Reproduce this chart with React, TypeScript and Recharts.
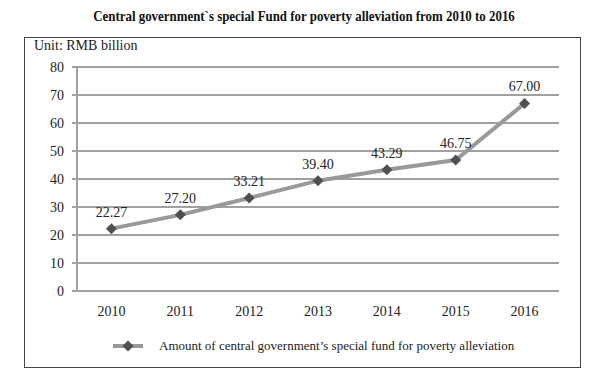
import React from 'react';
import { LineChart, Line, XAxis, YAxis, CartesianGrid, LabelList } from 'recharts';

const years = ['2010', '2011', '2012', '2013', '2014', '2015', '2016'];
const funds = [22.27, 27.2, 33.21, 39.4, 43.29, 46.75, 67.0];
const yTicks = [0, 10, 20, 30, 40, 50, 60, 70, 80];
const edgeTicks = [0, 1, 2, 3, 4, 5, 6, 7];

const data = years.map((year, i) => ({ year, fund: funds[i] }));

const serif = '"Liberation Serif", "Times New Roman", serif';

const Diamond = (props: any) => {
  const { cx, cy, index } = props;
  if (cx == null || cy == null) return null;
  const r = 5.5;
  return (
    <path
      key={`d-${index}`}
      d={`M${cx},${cy - r} L${cx + r},${cy} L${cx},${cy + r} L${cx - r},${cy} Z`}
      fill="#505050"
    />
  );
};

export default function App() {
  return (
    <div style={{ position: 'absolute', left: 0, top: 0, width: 600, height: 382, background: '#fff', fontFamily: serif }}>
      <div
        style={{
          position: 'absolute',
          left: 0,
          top: 8,
          width: 608,
          textAlign: 'center',
          fontSize: 15,
          fontWeight: 'bold',
          color: '#111',
          transform: 'scaleX(0.86)',
          transformOrigin: '304px 0',
          whiteSpace: 'nowrap',
        }}
      >
        Central government`s special Fund for poverty alleviation from 2010 to 2016
      </div>
      <div style={{ position: 'absolute', left: 24, top: 37, width: 555, height: 329, border: '1px solid #444' }} />
      <div style={{ position: 'absolute', left: 34, top: 38, fontSize: 14, color: '#222' }}>Unit: RMB billion</div>

      <div style={{ position: 'absolute', left: 0, top: 0 }}>
        <LineChart width={600} height={382} data={data} margin={{ top: 67, right: 41, bottom: 61, left: 0 }}>
          <CartesianGrid vertical={false} stroke="#a0a0a0" strokeWidth={2} />
          <XAxis
            xAxisId="edge"
            type="number"
            domain={[0, 7]}
            ticks={edgeTicks}
            tick={false}
            tickSize={5}
            height={0}
            stroke="#a0a0a0"
            strokeWidth={2}
          />
          <XAxis
            dataKey="year"
            scale="band"
            height={30}
            axisLine={false}
            tickLine={false}
            tickMargin={9}
            tick={{ fontSize: 14, fill: '#222', fontFamily: serif }}
          />
          <YAxis
            width={77}
            domain={[0, 80]}
            ticks={yTicks}
            tickSize={5}
            tickMargin={8}
            stroke="#a0a0a0"
            strokeWidth={2}
            tick={{ fontSize: 14, fill: '#222', fontFamily: serif }}
          />
          <Line
            dataKey="fund"
            stroke="#999999"
            strokeWidth={4}
            dot={Diamond}
            activeDot={false}
            isAnimationActive={false}
          >
            <LabelList
              dataKey="fund"
              position="top"
              offset={12}
              formatter={(v: any) => Number(v).toFixed(2)}
              style={{ fontSize: 14, fill: '#222', fontFamily: serif }}
            />
          </Line>
        </LineChart>
      </div>

      <div style={{ position: 'absolute', left: 112, top: 338, display: 'flex', alignItems: 'center', fontSize: 13, color: '#222' }}>
        <svg width={32} height={14} style={{ marginRight: 15 }}>
          <line x1={1} y1={7} x2={31} y2={7} stroke="#999999" strokeWidth={4} />
          <path d="M16,1.5 L21.5,7 L16,12.5 L10.5,7 Z" fill="#505050" />
        </svg>
        <span>Amount of central government’s special fund for poverty alleviation</span>
      </div>
    </div>
  );
}
